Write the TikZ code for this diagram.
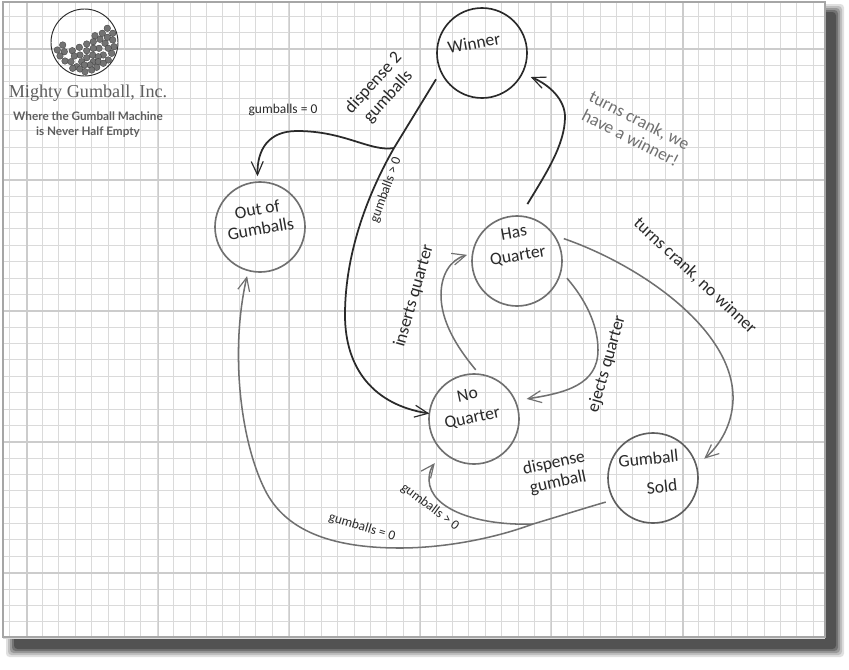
\documentclass[tikz,border=0pt]{standalone}
\usepackage{fontspec}
\setmainfont{Carlito}
\newfontfamily\logofont{Liberation Serif}
\newfontfamily\tagfont{Lato}
\usetikzlibrary{arrows.meta}
\definecolor{gridminor}{HTML}{DADADA}
\definecolor{gridmajor}{HTML}{CCCCCC}
\definecolor{darkink}{HTML}{2A2A2A}
\definecolor{greyink}{HTML}{707070}
\definecolor{logoink}{HTML}{5E5E5E}

\begin{document}
\begin{tikzpicture}[
  x=0.03cm, y=-0.03cm,
  >={Straight Barb[length=4mm,width=3.6mm,line width=1pt]},
  state/.style={draw, circle, minimum size=2.7cm, inner sep=0pt, outer sep=0pt, line width=1.4pt},
  hand/.style={align=center, text=darkink, inner sep=0pt, font=\fontsize{15}{17}\selectfont},
  statetext/.style={hand, font=\fontsize{15}{20}\selectfont},
  handsmall/.style={hand, font=\fontsize{11.5}{12}\selectfont},
  blackline/.style={darkink, line width=1.5pt},
  greyline/.style={greyink, line width=1.3pt},
]
  \useasboundingbox (0,0) rectangle (849,669);

  % Paper and its shadow
  \foreach \blur/\shade in {8/12, 6/25, 4/40, 2/55, 0/68}
    \fill[black!\shade, rounded corners=3pt]
      (14-\blur,12-\blur) rectangle (836+\blur,649+\blur);
  \fill[white] (3,2) rectangle (825,637);
  \foreach \i in {0,...,49}
    \draw[gridminor, line width=0.6pt] (9.5+16.4*\i,2) -- (9.5+16.4*\i,637);
  \foreach \i in {0,...,38}
    \draw[gridminor, line width=0.6pt] (3,16+16.37*\i) -- (825,16+16.37*\i);
  \foreach \i in {0,...,5}
    \draw[gridmajor, line width=1pt] (27+131.2*\i,2) -- (27+131.2*\i,637);
  \foreach \i in {0,...,4}
    \draw[gridmajor, line width=1.2pt] (3,49+131*\i) -- (825,49+131*\i);
  \draw[gray!70, line width=0.9pt] (3,2) rectangle (825,637);

  % Logo
  \node[draw=darkink, circle, minimum size=2.01cm, inner sep=0pt, line width=0.8pt]
    (machine) at (84.5,42.5) {};
  \foreach \gx/\gy in {
      107.3/28.3, 102.3/33.3, 112.7/33.3, 95/35.7, 107.3/37.3, 100/39.3, 112.7/40,
      93.3/41.7, 105/43.3, 86.7/44, 114/46.7, 99/48.3, 79.3/47.3, 93.3/48.3,
      108.3/48.3, 62.7/45, 72.3/50.7, 86.7/50.7, 103.3/55, 111.7/53.3, 57.3/50,
      64.3/51.7, 80/55, 92.7/55, 98.3/56.7, 60/56, 74.3/56, 86.7/57.7, 108.3/60,
      65/61, 71/61.7, 81.7/61.7, 93.3/61.7, 98.3/61.7, 103.3/63.3, 90/65, 84.3/65,
      76.7/66.7, 96.7/67.3, 72.7/68.3, 91.7/70, 80/69, 85/71.7}
    \fill[black!55, draw=black!75, line width=0.3pt] (\gx,\gy) circle (3.3);
  \node[text=logoink, inner sep=0pt, font=\logofont\fontsize{15.5}{16}\selectfont]
    (company) at (88,93) {Mighty Gumball, Inc.};
  \node[text=logoink, inner sep=0pt, align=center,
        font=\tagfont\bfseries\fontsize{10}{12.6}\selectfont]
    (tagline) at (88,125) {Where the Gumball Machine\\is Never Half Empty};

  % States
  \node[state, draw=darkink] (winner) at (482,53) {};
  \node[state, draw=greyink] (outof) at (260,227) {};
  \node[state, draw=greyink] (hasq) at (517,261) {};
  \node[state, draw=greyink] (noq) at (474,419) {};
  \node[state, draw=darkink!75] (sold) at (653,478) {};

  \node[statetext, rotate=10] (winnertext) at (474,43) {Winner};
  \node[hand, rotate=10] (outoftext) at (259,219) {Out of\\Gumballs};
  \node[statetext, rotate=10] (hasqtext) at (516,245) {Has\\Quarter};
  \node[statetext, rotate=12] (noqtext) at (470,407) {No\\Quarter};
  \node[statetext, rotate=6] (soldtext) at (650,473) {Gumball\\[5pt]\hspace*{18pt}Sold};

  % Connectors
  \coordinate (upsplit) at (394,148);
  \coordinate (lowsplit) at (533,524);
  \draw[blackline, shorten <=8pt] (winner.204) -- (upsplit);
  \draw[blackline, ->] (upsplit) .. controls (370,190) and (345,250) .. (345,315)
    .. controls (345,370) and (375,405) .. (noq.173);
  \draw[blackline, ->, shorten >=5pt] (upsplit) .. controls (370,152) and (345,131) .. (297,131)
    .. controls (268,131) and (257,150) .. (outof.93);
  \draw[blackline, ->, shorten <=12pt, shorten >=8pt] (hasq.86)
    .. controls (545,175) and (565,145) .. (565,117)
    .. controls (565,100) and (550,85) .. (winner.-27);
  \draw[greyline, ->, shorten <=9pt, shorten >=9pt] (hasq.35)
    .. controls (640,265) and (735,330) .. (733,400)
    .. controls (732,425) and (720,445) .. (sold.16);
  \draw[greyline, ->, shorten <=8pt, shorten >=10pt] (hasq.-13)
    .. controls (590,305) and (598,330) .. (598,350)
    .. controls (598,385) and (565,393) .. (noq.24);
  \draw[greyline, ->, shorten <=5pt, shorten >=5pt] (noq.83)
    .. controls (455,345) and (441,320) .. (441,295)
    .. controls (441,275) and (450,260) .. (hasq.170);
  \draw[greyline, shorten <=7pt] (sold.209) .. controls (585,508) and (560,516) .. (lowsplit);
  \draw[greyline, ->, shorten >=5pt] (lowsplit) .. controls (490,540) and (440,548) .. (400,548)
    .. controls (330,548) and (285,530) .. (265,490)
    .. controls (240,440) and (230,350) .. (outof.-105);
  \draw[greyline, ->, shorten >=12pt] (lowsplit) .. controls (480,526) and (430,510) .. (429,480)
    .. controls (429,473) and (431,468) .. (noq.-133);

  % Labels
  \node[handsmall] (zeroa) at (283,110) {gumballs = 0};
  \node[hand, rotate=48] (twoballs) at (381,90) {dispense 2\\gumballs};
  \node[handsmall, rotate=70] (morea) at (386,190) {gumballs > 0};
  \node[hand, rotate=-27, text=greyink] (crankwin) at (635,129) {turns crank, we\\have a winner!};
  \node[hand, rotate=-43] (cranklose) at (695,276) {turns crank, no winner};
  \node[hand, rotate=74] (inserts) at (414,296) {inserts quarter};
  \node[hand, rotate=74] (ejects) at (607,364) {ejects quarter};
  \node[hand, rotate=12] (oneball) at (556,473) {dispense\\gumball};
  \node[handsmall, rotate=-37] (moreb) at (430,507) {gumballs > 0};
  \node[handsmall, rotate=-17] (zerob) at (362,527) {gumballs = 0};
\end{tikzpicture}
\end{document}
